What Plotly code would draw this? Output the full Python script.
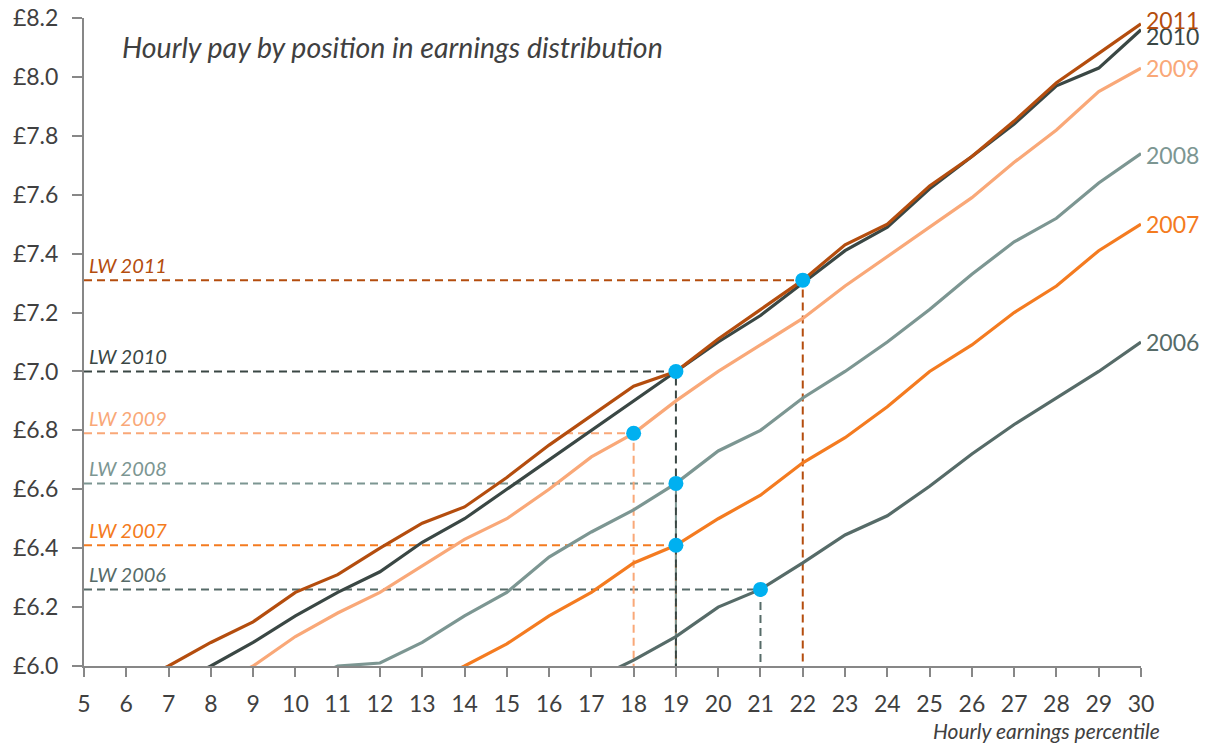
import plotly.graph_objects as go

percentiles = list(range(5, 31))
years = ["2006", "2007", "2008", "2009", "2010", "2011"]

N = None
pay_2006 = [N]*12 + [5.95, 6.02, 6.10, 6.20, 6.26, 6.35, 6.445, 6.51, 6.61, 6.72, 6.82, 6.91, 7.00, 7.10]
pay_2007 = [N]*8 + [5.93, 6.00, 6.075, 6.17, 6.25, 6.35, 6.41, 6.50, 6.58, 6.69, 6.775, 6.88, 7.00, 7.09, 7.20, 7.29, 7.41, 7.50]
pay_2008 = [N]*5 + [5.93, 6.00, 6.01, 6.08, 6.17, 6.25, 6.37, 6.455, 6.53, 6.62, 6.73, 6.80, 6.91, 7.00, 7.10, 7.21, 7.33, 7.44, 7.52, 7.64, 7.74]
pay_2009 = [N]*3 + [5.93, 6.00, 6.10, 6.18, 6.25, 6.34, 6.43, 6.50, 6.60, 6.71, 6.79, 6.90, 7.00, 7.09, 7.18, 7.29, 7.39, 7.49, 7.59, 7.71, 7.82, 7.95, 8.03]
pay_2010 = [N]*2 + [5.93, 6.00, 6.08, 6.17, 6.25, 6.32, 6.42, 6.50, 6.60, 6.70, 6.80, 6.90, 7.00, 7.10, 7.19, 7.30, 7.41, 7.49, 7.62, 7.73, 7.84, 7.97, 8.03, 8.16]
pay_2011 = [N] + [5.93, 6.00, 6.08, 6.15, 6.25, 6.31, 6.40, 6.485, 6.54, 6.64, 6.75, 6.85, 6.95, 7.00, 7.11, 7.21, 7.31, 7.43, 7.50, 7.63, 7.73, 7.85, 7.98, 8.08, 8.18]

# Living wage level and the percentile where it is reached
lw_value = [6.26, 6.41, 6.62, 6.79, 7.00, 7.31]
lw_percentile = [21, 19, 19, 18, 19, 22]

colors = ["#566B68", "#F47B20", "#7C9692", "#F9A878", "#3A4744", "#B44D0E"]
series = [pay_2006, pay_2007, pay_2008, pay_2009, pay_2010, pay_2011]
label_yshift = [0, 0, -2, 0, -6, 4]

X_MIN, X_MAX = 5, 30
Y_MIN, Y_MAX = 6.0, 8.2
FONT = "Lato"
TXT = "#404040"
AXIS = "#878787"

fig = go.Figure()

# dashed guide lines
for i, y in enumerate(years):
    fig.add_trace(go.Scatter(
        x=[X_MIN, lw_percentile[i], lw_percentile[i]],
        y=[lw_value[i], lw_value[i], Y_MIN],
        mode="lines",
        line=dict(color=colors[i], width=2, dash="8px,5px"),
        hoverinfo="skip", showlegend=False))

# pay lines
for i, y in enumerate(years):
    fig.add_trace(go.Scatter(
        x=percentiles, y=series[i], mode="lines",
        line=dict(color=colors[i], width=3.2),
        connectgaps=False, hoverinfo="skip", showlegend=False))

# living wage dots
fig.add_trace(go.Scatter(
    x=lw_percentile, y=lw_value, mode="markers",
    marker=dict(color="#00B0F0", size=15, line=dict(width=0)),
    hoverinfo="skip", showlegend=False, cliponaxis=False))

annotations = []
for i, y in enumerate(years):
    last = [v for v in series[i] if v is not None][-1]
    annotations.append(dict(
        x=X_MAX, y=last, xref="x", yref="y", text=y, showarrow=False,
        xanchor="left", yanchor="middle", xshift=3, yshift=label_yshift[i],
        font=dict(family=FONT, size=23, color=colors[i])))
    annotations.append(dict(
        x=X_MIN, y=lw_value[i], xref="x", yref="y", text="<i>LW " + y + "</i>",
        showarrow=False, xanchor="left", yanchor="bottom", xshift=3, yshift=1,
        font=dict(family=FONT, size=20, color=colors[i])))

annotations.append(dict(
    x=0.034, y=0.955, xref="paper", yref="paper",
    text="<i>Hourly pay by position in earnings distribution</i>",
    showarrow=False, xanchor="left", yanchor="middle",
    font=dict(family=FONT, size=28.5, color=TXT)))
annotations.append(dict(
    x=1.02, y=0, xref="paper", yref="paper",
    text="<i>Hourly earnings percentile</i>", showarrow=False,
    xanchor="right", yanchor="middle", yshift=-64,
    font=dict(family=FONT, size=21, color=TXT)))

fig.update_layout(
    width=1209, height=743,
    margin=dict(l=84, r=68, t=18, b=77, autoexpand=False),
    paper_bgcolor="white", plot_bgcolor="white",
    font=dict(family=FONT, color=TXT),
    annotations=annotations,
    showlegend=False,
    xaxis=dict(range=[X_MIN, X_MAX], tickmode="array", tickvals=percentiles,
               ticktext=[str(p) for p in percentiles], automargin=False,
               showgrid=False, zeroline=False, showline=True,
               linecolor=AXIS, linewidth=2, ticks="outside", ticklen=9,
               tickwidth=2, tickcolor=AXIS, ticklabelstandoff=7,
               tickfont=dict(family=FONT, size=23, color=TXT)),
    yaxis=dict(range=[Y_MIN, Y_MAX], tickmode="array",
               tickvals=[6.0, 6.2, 6.4, 6.6, 6.8, 7.0, 7.2, 7.4, 7.6, 7.8, 8.0, 8.2],
               ticktext=["£6.0", "£6.2", "£6.4", "£6.6", "£6.8", "£7.0", "£7.2",
                         "£7.4", "£7.6", "£7.8", "£8.0", "£8.2"], automargin=False,
               showgrid=False, zeroline=False, showline=True,
               linecolor=AXIS, linewidth=2, ticks="outside", ticklen=10,
               tickwidth=2, tickcolor=AXIS, ticklabelstandoff=9,
               tickfont=dict(family=FONT, size=23, color=TXT)),
)

fig.write_html("out.html", config={"displayModeBar": False},
               post_script="document.body.style.margin='0';")
